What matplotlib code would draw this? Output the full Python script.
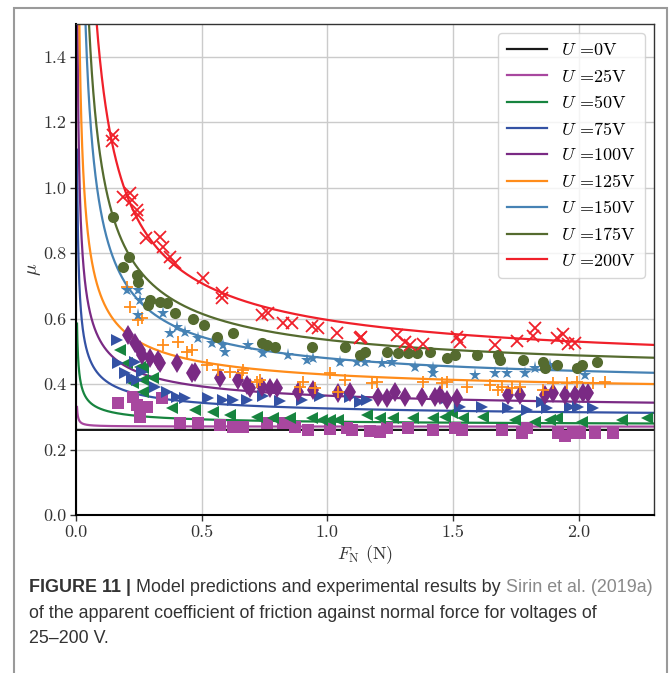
import numpy as np
import matplotlib
matplotlib.use('Agg')
import matplotlib.pyplot as plt
from matplotlib.patches import Rectangle

# Computer Modern look for the plot, sans for the caption
plt.rcParams['font.family'] = 'cmr10'
plt.rcParams['mathtext.fontset'] = 'cm'
plt.rcParams['axes.formatter.use_mathtext'] = True
plt.rcParams['axes.unicode_minus'] = False

voltages = [0, 25, 50, 75, 100, 125, 150, 175, 200]
colors = ['#1a1a1a', '#a8479f', '#17843f', '#3452a4', '#7a2a84',
          '#ff8c1a', '#4682b4', '#556b2f', '#f0202a']
markers = [None, 's', '<', '>', 'd', '+', '*', 'o', 'x']

# model: mu = mu_inf + coef_b * F^(-expo_p)
mu_inf = [0.26, 0.27, 0.27, 0.29, 0.31, 0.36, 0.383, 0.4175, 0.4315]
coef_b = [0.0, 0.00024, 0.0151, 0.0355, 0.0546, 0.0688, 0.096, 0.1175, 0.1645]
expo_p = [1.0, 1.0, 0.55, 0.57, 0.60, 0.65, 0.75, 0.75, 0.75]

# measurements (normal force in N, apparent friction coefficient)
f_25 = [0.168, 0.228, 0.241, 0.281, 0.341, 0.255, 0.414, 0.487, 0.573, 0.626,
        0.666, 0.759, 0.825, 0.871, 0.924, 1.011, 1.077, 1.097, 1.17, 1.21,
        1.236, 1.322, 1.422, 1.508, 1.535, 1.694, 1.773, 1.793, 1.919, 1.946,
        1.979, 2.006, 2.065, 2.138]
mu_25 = [0.341, 0.361, 0.336, 0.331, 0.356, 0.300, 0.280, 0.280, 0.275, 0.270,
         0.270, 0.280, 0.280, 0.270, 0.260, 0.262, 0.265, 0.260, 0.258, 0.255,
         0.265, 0.265, 0.260, 0.265, 0.260, 0.260, 0.250, 0.265, 0.250, 0.240,
         0.250, 0.250, 0.250, 0.250]

f_50 = [0.175, 0.202, 0.255, 0.268, 0.268, 0.228, 0.268, 0.308, 0.381, 0.474,
        0.546, 0.613, 0.719, 0.785, 0.852, 0.938, 0.978, 1.011, 1.044, 1.157,
        1.21, 1.263, 1.342, 1.422, 1.468, 1.495, 1.541, 1.621, 1.747, 1.826,
        1.886, 1.913, 2.012, 2.171, 2.271]
mu_50 = [0.504, 0.463, 0.453, 0.412, 0.377, 0.402, 0.448, 0.418, 0.326, 0.321,
         0.316, 0.306, 0.300, 0.295, 0.295, 0.295, 0.290, 0.290, 0.290, 0.306,
         0.295, 0.295, 0.295, 0.295, 0.300, 0.311, 0.295, 0.300, 0.290, 0.285,
         0.290, 0.295, 0.285, 0.290, 0.295]

f_75 = [0.162, 0.235, 0.168, 0.195, 0.261, 0.222, 0.241, 0.314, 0.361, 0.401,
        0.434, 0.526, 0.586, 0.626, 0.679, 0.745, 0.812, 0.898, 0.971, 1.09,
        1.13, 1.157, 1.475, 1.528, 1.614, 1.72, 1.793, 1.853, 1.873, 1.966,
        1.999, 2.058]
mu_75 = [0.535, 0.468, 0.463, 0.433, 0.438, 0.418, 0.412, 0.392, 0.375, 0.361,
         0.356, 0.356, 0.351, 0.351, 0.351, 0.363, 0.348, 0.351, 0.363, 0.361,
         0.346, 0.351, 0.356, 0.331, 0.331, 0.326, 0.321, 0.346, 0.326, 0.331,
         0.331, 0.326]

f_100 = [0.208, 0.235, 0.255, 0.261, 0.294, 0.328, 0.334, 0.401, 0.46, 0.474,
         0.573, 0.646, 0.679, 0.692, 0.739, 0.772, 0.799, 0.885, 0.944, 1.044,
         1.09, 1.203, 1.236, 1.269, 1.309, 1.376, 1.429, 1.448, 1.475, 1.515,
         1.72, 1.767, 1.866, 1.9, 1.946, 1.986, 2.019, 2.039]
mu_100 = [0.550, 0.525, 0.504, 0.489, 0.479, 0.474, 0.463, 0.463, 0.433, 0.438,
          0.418, 0.412, 0.397, 0.387, 0.392, 0.387, 0.387, 0.377, 0.382, 0.372,
          0.377, 0.361, 0.356, 0.377, 0.361, 0.361, 0.361, 0.367, 0.351, 0.356,
          0.367, 0.367, 0.367, 0.372, 0.367, 0.367, 0.372, 0.372]

f_125 = [0.202, 0.215, 0.248, 0.261, 0.348, 0.407, 0.44, 0.46, 0.52, 0.566,
         0.613, 0.659, 0.666, 0.719, 0.732, 0.891, 0.905, 0.951, 1.011, 1.044,
         1.07, 1.177, 1.197, 1.382, 1.455, 1.475, 1.555, 1.647, 1.68, 1.694,
         1.734, 1.767, 1.86, 1.899, 1.953, 1.992, 2.058, 2.105]
mu_125 = [0.697, 0.636, 0.596, 0.601, 0.519, 0.530, 0.499, 0.504, 0.458, 0.443,
          0.438, 0.433, 0.443, 0.407, 0.412, 0.392, 0.407, 0.387, 0.433, 0.377,
          0.412, 0.402, 0.407, 0.407, 0.402, 0.407, 0.392, 0.397, 0.382, 0.392,
          0.387, 0.392, 0.382, 0.402, 0.402, 0.407, 0.402, 0.407]

f_150 = [0.202, 0.248, 0.255, 0.248, 0.348, 0.374, 0.401, 0.434, 0.487, 0.540,
         0.586, 0.593, 0.686, 0.745, 0.845, 0.918, 0.944, 1.05, 1.117, 1.15,
         1.216, 1.256, 1.349, 1.422, 1.422, 1.588, 1.667, 1.714, 1.787, 1.826,
         1.886, 2.025]
mu_150 = [0.687, 0.687, 0.657, 0.611, 0.616, 0.555, 0.575, 0.560, 0.540, 0.524,
          0.519, 0.499, 0.519, 0.494, 0.489, 0.474, 0.479, 0.468, 0.468, 0.468,
          0.463, 0.468, 0.453, 0.448, 0.433, 0.428, 0.433, 0.433, 0.433, 0.448,
          0.458, 0.428]

f_175 = [0.149, 0.212, 0.188, 0.241, 0.248, 0.294, 0.288, 0.334, 0.361, 0.394,
         0.467, 0.509, 0.560, 0.625, 0.739, 0.759, 0.792, 0.938, 1.07, 1.13,
         1.15, 1.236, 1.283, 1.32, 1.356, 1.409, 1.475, 1.508, 1.594, 1.68,
         1.687, 1.78, 1.86, 1.866, 1.913, 1.992, 2.012, 2.072]
mu_175 = [0.909, 0.789, 0.759, 0.733, 0.713, 0.657, 0.642, 0.652, 0.647, 0.616,
          0.598, 0.580, 0.545, 0.556, 0.524, 0.519, 0.514, 0.514, 0.514, 0.489,
          0.499, 0.499, 0.494, 0.494, 0.494, 0.499, 0.479, 0.489, 0.489, 0.489,
          0.474, 0.474, 0.468, 0.448, 0.458, 0.448, 0.458, 0.468]

f_200 = [0.142, 0.149, 0.188, 0.215, 0.222, 0.241, 0.248, 0.279, 0.334, 0.348,
         0.374, 0.394, 0.507, 0.580, 0.580, 0.739, 0.765, 0.825, 0.858, 0.938,
         0.964, 1.037, 1.13, 1.136, 1.276, 1.309, 1.329, 1.382, 1.515, 1.528,
         1.667, 1.754, 1.826, 1.82, 1.913, 1.939, 1.959, 1.986]
mu_200 = [1.144, 1.161, 0.973, 0.983, 0.962, 0.932, 0.917, 0.845, 0.850, 0.820,
          0.789, 0.769, 0.723, 0.677, 0.662, 0.611, 0.616, 0.586, 0.586, 0.577,
          0.572, 0.555, 0.540, 0.545, 0.550, 0.530, 0.519, 0.522, 0.545, 0.530,
          0.519, 0.532, 0.570, 0.547, 0.540, 0.553, 0.522, 0.525]

f_meas = [None, f_25, f_50, f_75, f_100, f_125, f_150, f_175, f_200]
mu_meas = [None, mu_25, mu_50, mu_75, mu_100, mu_125, mu_150, mu_175, mu_200]

fig = plt.figure(figsize=(6.72, 6.73), dpi=100)
ax = fig.add_axes([0.1131, 0.2348, 0.8601, 0.7295])

F = np.linspace(0.004, 2.3, 4000)
for i, U in enumerate(voltages):
    mu = mu_inf[i] + coef_b[i] * F ** (-expo_p[i])
    ax.plot(F, mu, color=colors[i], lw=1.6, label=rf'$U$ ={U}V', zorder=2)
    if f_meas[i] is None:
        continue
    m = markers[i]
    if m in ('x', '+'):
        ax.plot(f_meas[i], mu_meas[i], ls='none', marker=m, color=colors[i],
                ms=8.5, mew=1.3, zorder=3)
    else:
        size = {'d': 10, '*': 9.5}.get(m, 8)
        ax.plot(f_meas[i], mu_meas[i], ls='none', marker=m, color=colors[i],
                ms=size, mew=0, zorder=3)

ax.set_xlim(0, 2.3)
ax.set_ylim(0, 1.5)
ax.set_xticks(np.arange(0, 2.01, 0.5))
ax.set_yticks(np.arange(0, 1.41, 0.2))
ax.xaxis.set_major_formatter(plt.FuncFormatter(lambda v, _: f'{v:.1f}'))
ax.yaxis.set_major_formatter(plt.FuncFormatter(lambda v, _: f'{v:.1f}'))
ax.grid(True, color='#cbcbcb', lw=1.0)
ax.set_axisbelow(True)
for side in ('left', 'bottom'):
    ax.spines[side].set_color('black')
    ax.spines[side].set_linewidth(1.5)
for side in ('top', 'right'):
    ax.spines[side].set_color('#333333')
    ax.spines[side].set_linewidth(1.0)
ax.tick_params(direction='out', length=4, width=1, labelsize=13, pad=3,
               colors='#333333')
ax.set_xlabel(r'$F_{\rm N}$ (N)', fontsize=13, color='#333333', labelpad=2)
ax.set_ylabel(r'$\mu$', fontsize=14, color='#333333', labelpad=0)

ax.legend(loc='upper right', fontsize=13, handlelength=2.2, handletextpad=0.8,
          labelspacing=0.53, framealpha=0.8, edgecolor='#cccccc', borderpad=0.5)

# caption below the plot
cap = fig.add_axes([0, 0, 1, 1])
cap.axis('off')
cap.set_xlim(0, 1)
cap.set_ylim(0, 1)
cap_size = 12.9
cap_font = dict(family='Liberation Sans', fontsize=cap_size, color='#333333')
x0 = 29 / 672
t1 = cap.text(x0, 1 - 592 / 673, 'FIGURE 11 |', fontweight='bold',
              va='baseline', **cap_font)
t2 = cap.annotate(' Model predictions and experimental results by ',
                  xy=(1, 0), xycoords=t1, va='bottom', **cap_font)
cap.annotate('Sirin et al. (2019a)', xy=(1, 0), xycoords=t2, va='bottom',
             family='Liberation Sans', fontsize=cap_size, color='#8a8a8a')
cap.text(x0, 1 - 618 / 673,
         'of the apparent coefficient of friction against normal force for voltages of',
         va='baseline', **cap_font)
cap.text(x0, 1 - 643 / 673, '25\u2013200 V.', va='baseline', **cap_font)

# frame around figure and caption
fig.add_artist(Rectangle((14 / 672, -0.1), (667 - 14) / 672, 1 - 8 / 673 + 0.1,
                         transform=fig.transFigure, fill=False,
                         ec='#9a9a9a', lw=1.5))

fig.savefig('out.png', dpi=100)
